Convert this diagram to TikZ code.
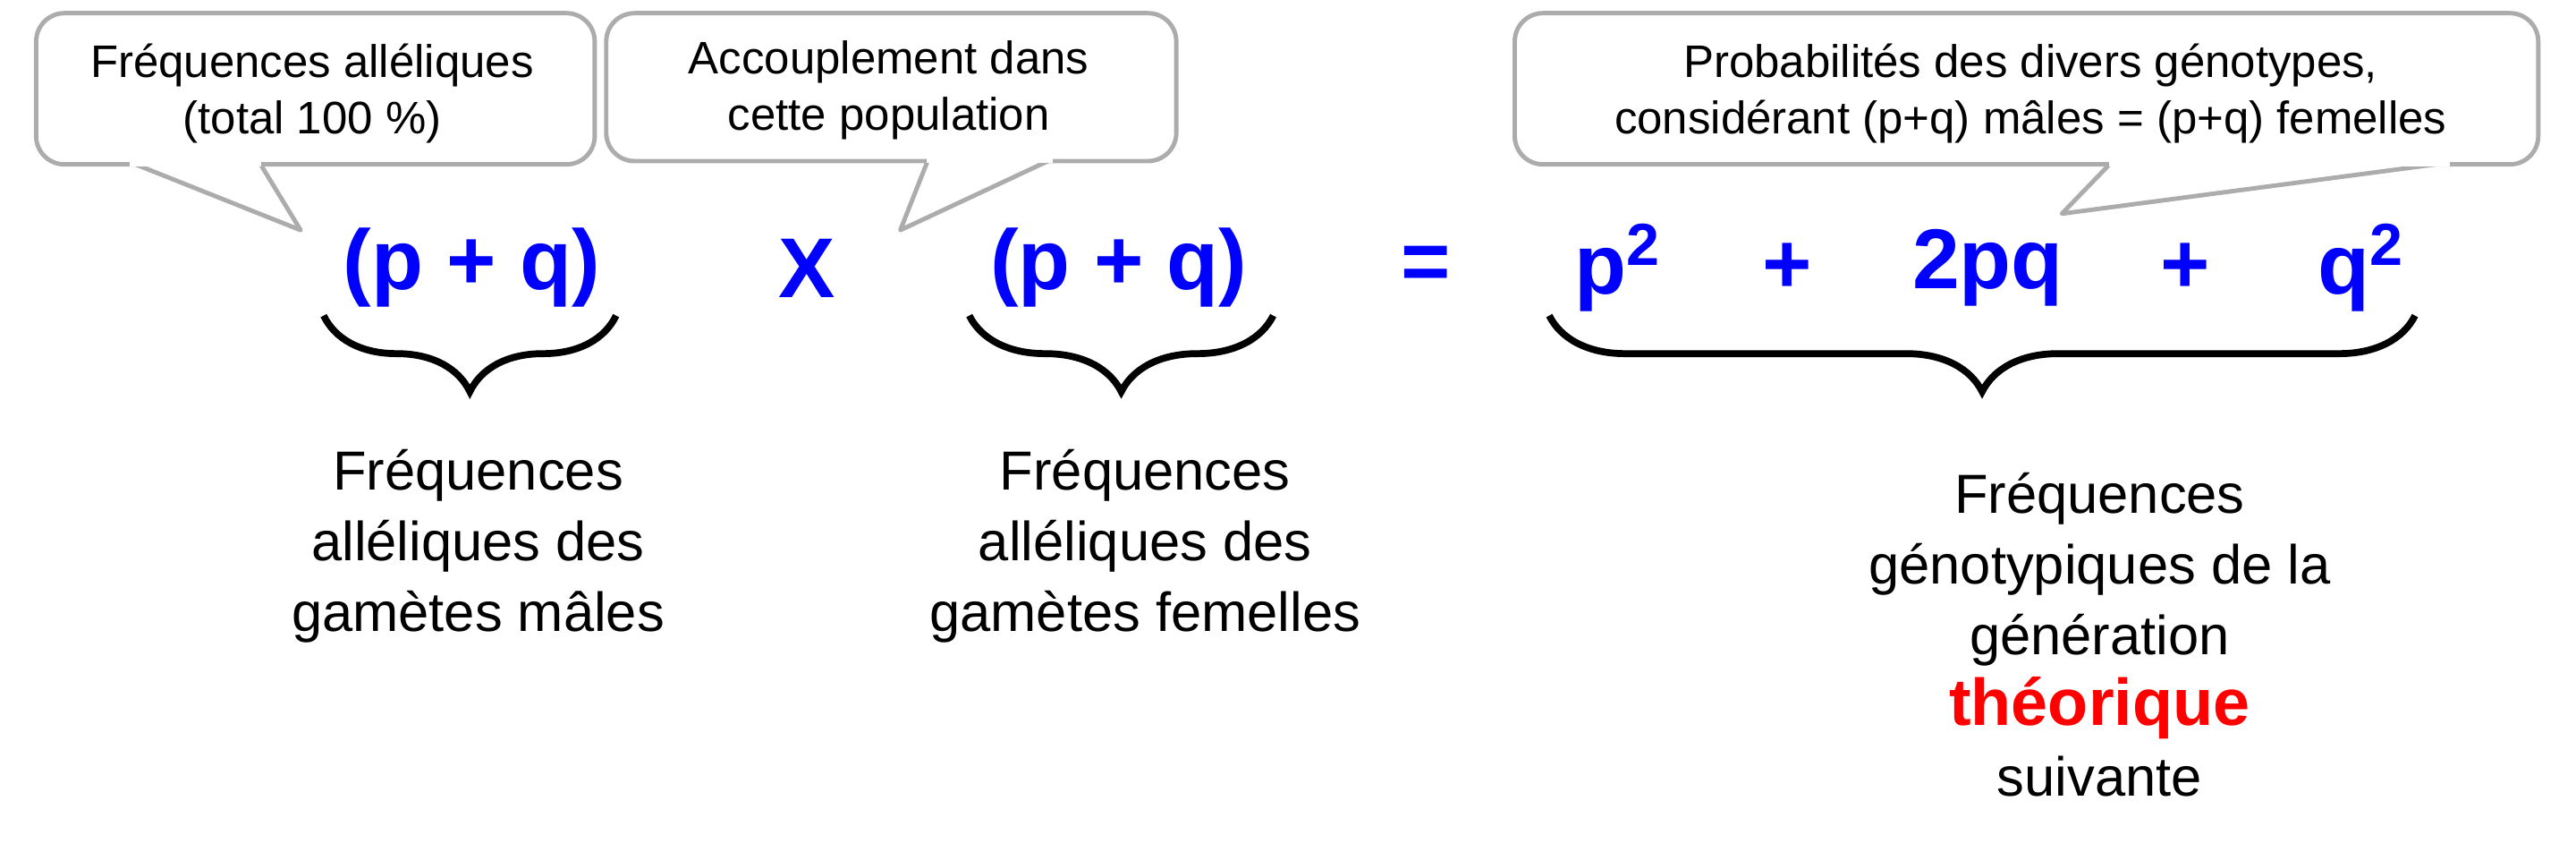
\documentclass[tikz,border=0pt]{standalone}
\usepackage{fontspec}
\setmainfont{Liberation Sans}
\usetikzlibrary{decorations.pathreplacing}
\begin{document}
\begin{tikzpicture}[x=0.01837cm,y=-0.01837cm,
  call/.style={draw=gray!65,line width=1.4pt,rounded corners=9pt,fill=white},
  tail/.style={draw=gray!65,line width=1.4pt,fill=white,line join=round},
  ctext/.style={font=\fontsize{14.5}{18}\selectfont,align=center},
  math/.style={font=\fontsize{27}{30}\selectfont\bfseries,text=blue},
  lab/.style={font=\fontsize{17.5}{22.5}\selectfont,align=center},
  brc/.style={decorate,decoration={brace,mirror,amplitude=0.85cm},line width=2.2pt}]
\useasboundingbox (0,0) rectangle (1568,518);
% callouts
\draw[call] (22,8) rectangle (362,100);
\coordinate (t1) at (183,140);
\filldraw[tail] (80,99) -- (t1) -- (158,99);
\fill[white] (79,96.5) rectangle (159,101);
\node[ctext] (c1) at (190,57) {Fréquences alléliques\\(total 100 \%)};
\draw[call] (369,8) rectangle (716,98);
\coordinate (t2) at (548,140);
\filldraw[tail] (640,97) -- (t2) -- (565,97);
\fill[white] (564,94.5) rectangle (641,99);
\node[ctext] (c2) at (541,55) {Accouplement dans\\cette population};
\draw[call] (922,8) rectangle (1545,100);
\coordinate (t3) at (1255,130);
\filldraw[tail] (1285,99) -- (t3) -- (1490,99);
\fill[white] (1284,96.5) rectangle (1491,101);
\node[ctext] (c3) at (1236,57) {Probabilités des divers génotypes,\\considérant (p+q) mâles = (p+q) femelles};
% math
\node[math] (m1) at (287,163) {(p + q)};
\node[math] (x) at (491,163) {X};
\node[math] (m2) at (681,163) {(p + q)};
\node[math] (eq) at (868,163) {=};
\node[math] (p2) at (985,163) {p\textsuperscript{2}};
\node[math] (pl1) at (1088,163) {+};
\node[math] (pq) at (1210,163) {2pq};
\node[math] (pl2) at (1330,163) {+};
\node[math] (q2) at (1437,163) {q\textsuperscript{2}};
% braces
\coordinate (b1a) at (197,192); \coordinate (b1b) at (375,192);
\coordinate (b2a) at (590,192); \coordinate (b2b) at (775,192);
\coordinate (b3a) at (943,192); \coordinate (b3b) at (1470,192);
\draw[brc] (b1a) -- (b1b);
\draw[brc] (b2a) -- (b2b);
\draw[brc] (b3a) -- (b3b);
% labels
\node[lab] (l1) at (291,332) {Fréquences\\alléliques des\\gamètes mâles};
\node[lab] (l2) at (697,332) {Fréquences\\alléliques des\\gamètes femelles};
\node[lab] (l3) at (1278,386) {Fréquences\\génotypiques de la\\génération\\{\color{red}\bfseries\fontsize{21}{22.5}\selectfont théorique}\\suivante};
\end{tikzpicture}
\end{document}
